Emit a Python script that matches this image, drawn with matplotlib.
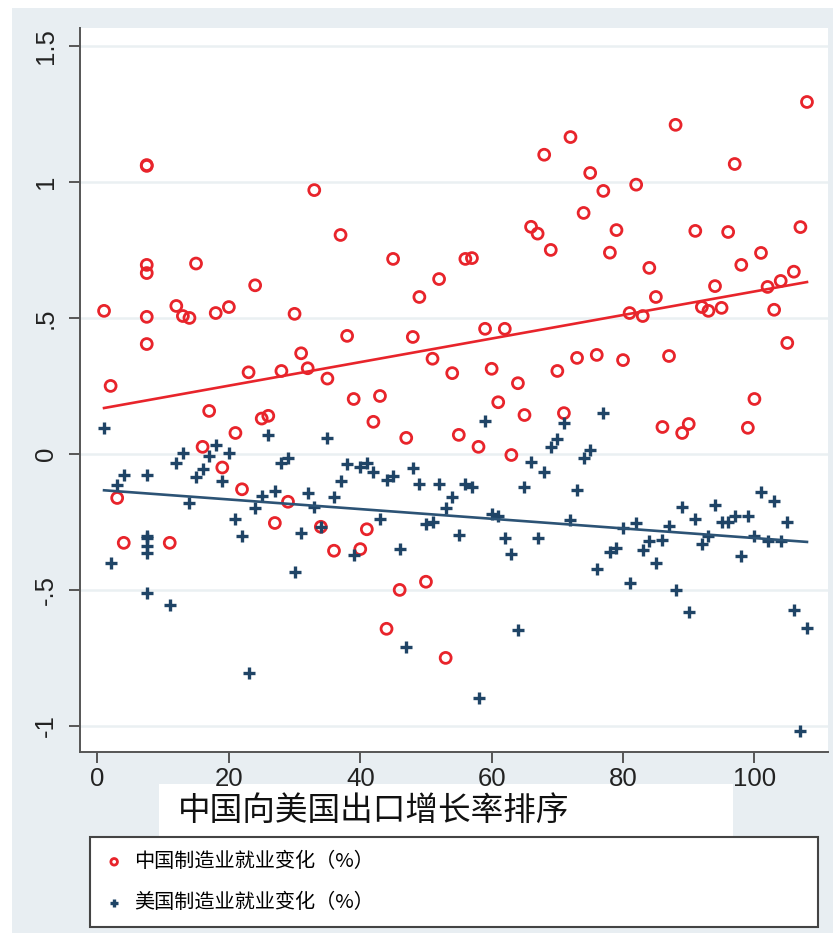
import matplotlib.pyplot as plt
import numpy as np
from matplotlib.patches import Rectangle

# rank of China's export growth to the US (ranks 5-10 are tied -> 7.5)
rank = [1, 2, 3, 4] + [7.5] * 6 + list(range(11, 109))

# manufacturing employment change (%), China
cn_emp = [0.526, 0.25, -0.162, -0.327,
          1.059, 1.062, 0.695, 0.665, 0.504, 0.404,
          -0.327, 0.544, 0.507, 0.50, 0.70, 0.026, 0.158, 0.518, -0.05, 0.54,
          0.077, -0.13, 0.30, 0.62, 0.13, 0.14, -0.254, 0.305, -0.176, 0.515,
          0.37, 0.315, 0.97, -0.268, 0.277, -0.356, 0.805, 0.434, 0.202, -0.35,
          -0.277, 0.118, 0.213, -0.643, 0.717, -0.50, 0.059, 0.43, 0.577, -0.47,
          0.35, 0.643, -0.75, 0.297, 0.07, 0.717, 0.72, 0.026, 0.46, 0.313,
          0.19, 0.46, -0.004, 0.26, 0.143, 0.835, 0.81, 1.10, 0.75, 0.305,
          0.15, 1.165, 0.353, 0.886, 1.033, 0.364, 0.967, 0.74, 0.823, 0.345,
          0.518, 0.99, 0.507, 0.684, 0.577, 0.099, 0.36, 1.21, 0.077, 0.11,
          0.82, 0.54, 0.526, 0.617, 0.537, 0.816, 1.066, 0.695, 0.096, 0.202,
          0.739, 0.614, 0.53, 0.636, 0.408, 0.67, 0.834, 1.294]

# manufacturing employment change (%), US
us_emp = [0.096, -0.40, -0.114, -0.077,
          -0.077, -0.30, -0.31, -0.34, -0.365, -0.51,
          -0.555, -0.033, 0.004, -0.18, -0.084, -0.056, -0.007, 0.033, -0.10, 0.004,
          -0.24, -0.30, -0.805, -0.20, -0.155, 0.07, -0.135, -0.033, -0.015, -0.434,
          -0.29, -0.143, -0.195, -0.268, 0.059, -0.158, -0.10, -0.037, -0.37, -0.047,
          -0.033, -0.066, -0.24, -0.095, -0.081, -0.35, -0.71, -0.05, -0.11, -0.257,
          -0.25, -0.11, -0.198, -0.16, -0.298, -0.11, -0.12, -0.897, 0.12, -0.22,
          -0.228, -0.31, -0.368, -0.647, -0.12, -0.029, -0.31, -0.066, 0.026, 0.055,
          0.114, -0.243, -0.132, -0.015, 0.015, -0.423, 0.15, -0.36, -0.345, -0.272,
          -0.474, -0.253, -0.353, -0.32, -0.40, -0.316, -0.265, -0.50, -0.195, -0.583,
          -0.24, -0.33, -0.30, -0.187, -0.25, -0.25, -0.23, -0.375, -0.23, -0.30,
          -0.14, -0.32, -0.172, -0.32, -0.25, -0.574, -1.018, -0.64]

yticks = [-1, -0.5, 0, 0.5, 1, 1.5]
ytick_labels = ["-1", "-.5", "0", ".5", "1", "1.5"]
xticks = [0, 20, 40, 60, 80, 100]

cn_label = "中国制造业就业变化（%）"
us_label = "美国制造业就业变化（%）"
x_title = "中国向美国出口增长率排序"

red = "#e8242b"
navy = "#1f4466"
cjk = ["Noto Sans CJK SC", "DejaVu Sans"]

plt.rcParams["font.family"] = ["Liberation Sans", "Noto Sans CJK SC"]

W, H = 833, 939
fig = plt.figure(figsize=(W / 100, H / 100), dpi=100)
fig.patch.set_facecolor("white")
fig.patches.append(Rectangle((12 / W, 6 / H), (W - 12) / W, (H - 14) / H,
                             transform=fig.transFigure, facecolor="#e8eef2",
                             edgecolor="none", zorder=-10))

ax = fig.add_axes([80 / W, 1 - 752 / H, (828 - 80) / W, (752 - 28) / H])
ax.set_facecolor("white")

x = np.array(rank)
cn = np.array(cn_emp)
us = np.array(us_emp)

ax.scatter(x, cn, s=62, facecolors="none", edgecolors=red, linewidths=2.0,
           label=cn_label, zorder=3)
ax.scatter(x, us, s=80, marker="+", color=navy, linewidths=2.4,
           label=us_label, zorder=4)

# linear fits over the observed range
xs = np.array([x.min(), x.max()])
b_cn = np.polyfit(x, cn, 1)
b_us = np.polyfit(x, us, 1)
ax.plot(xs, np.polyval(b_cn, xs), color=red, lw=1.9, zorder=5)
ax.plot(xs, np.polyval(b_us, xs), color="#2c5375", lw=1.9, zorder=5)

ax.set_xlim(-2.66, 111.2)
ax.set_ylim(-1.096, 1.566)
ax.set_yticks(yticks)
ax.set_yticklabels(ytick_labels, rotation=90, va="center")
ax.set_xticks(xticks)
ax.grid(axis="y", color="#eaf0f2", lw=1.8, zorder=0)
ax.set_axisbelow(True)

for side in ["top", "right"]:
    ax.spines[side].set_visible(False)
for side in ["left", "bottom"]:
    ax.spines[side].set_color("#555555")
    ax.spines[side].set_linewidth(1.4)
ax.tick_params(axis="both", colors="#555555", labelcolor="#222222",
               labelsize=18.5, length=8, width=1.4)
ax.tick_params(axis="y", pad=8)
ax.tick_params(axis="x", pad=3)

# axis title on its own white strip
fig.patches.append(Rectangle((159 / W, 1 - 838 / H), (733 - 159) / W, 54 / H,
                             transform=fig.transFigure, facecolor="white",
                             edgecolor="none", zorder=-5))
fig.text(178 / W, 1 - 811 / H, x_title, family=cjk, fontsize=23.5,
         ha="left", va="center", color="#111111")

leg = fig.legend(loc="upper left",
                 bbox_to_anchor=(90 / W, 1 - 925 / H, (818 - 90) / W, (925 - 837) / H),
                 mode="expand", borderaxespad=0, fancybox=False,
                 prop={"family": cjk, "size": 14.5}, labelspacing=1.0,
                 borderpad=0.7, handletextpad=0.5, handlelength=1.0,
                 markerscale=0.6, framealpha=1)
leg.get_frame().set_edgecolor("#444444")
leg.get_frame().set_linewidth(1.5)

fig.savefig("out.png", dpi=100)
